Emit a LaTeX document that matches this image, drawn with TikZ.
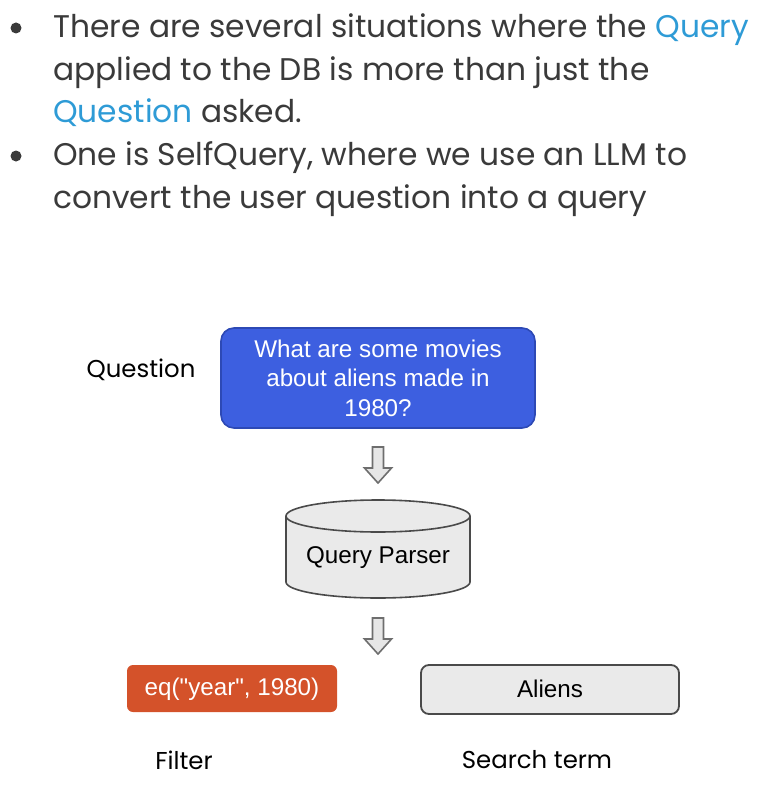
\documentclass[tikz,border=0pt]{standalone}
\usepackage{fontspec}
\setmainfont{Poppins}
\newfontfamily\arialf{Liberation Sans}
\definecolor{txtgray}{HTML}{3A3A3A}
\definecolor{qblue}{HTML}{2E9BD6}
\definecolor{boxblue}{HTML}{3D5FE0}
\definecolor{boxblueb}{HTML}{2D49B5}
\definecolor{orng}{HTML}{D4522A}
\definecolor{lgray}{HTML}{EAEAEA}
\definecolor{dgray}{HTML}{4A4A4A}
\definecolor{agray}{HTML}{6E6E6E}
\definecolor{afill}{HTML}{E6E6E6}
\tikzset{
  bulletline/.style={anchor=base west, inner sep=0pt, text=txtgray, font=\fontsize{31.3}{36}\selectfont},
  sidelabel/.style={inner sep=0pt, text=black, font=\fontsize{24.4}{29}\selectfont},
  boxtext/.style={font=\arialf\fontsize{24.2}{29.5}\selectfont, align=center},
  hollowarrow/.pic={\draw[agray, line width=1.6pt, fill=afill, line join=miter]
     (-5.5,0) -- (5.5,0) -- (5.5,21) -- (13.5,21) -- (0,36) -- (-13.5,21) -- (-5.5,21) -- cycle;}
}
\begin{document}
\begin{tikzpicture}[x=1pt,y=-1pt]
\useasboundingbox (0,0) rectangle (758,789);
% bullets
\fill[txtgray] (16,28) circle (5.5);
\fill[txtgray] (16,156) circle (5.5);
\node[bulletline] (l1) at (53,38) {There are several situations where the \textcolor{qblue}{Query}};
\node[bulletline] (l2) at (53,80.5) {applied to the DB is more than just the};
\node[bulletline] (l3) at (53,123) {\textcolor{qblue}{Question} asked.};
\node[bulletline] (l4) at (53,165.5) {One is SelfQuery, where we use an LLM to};
\node[bulletline] (l5) at (53,208) {convert the user question into a query};
% question
\node[sidelabel] (qlabel) at (141,370) {Question};
\draw[boxblueb, line width=1.6pt, fill=boxblue, rounded corners=13pt] (221,328) rectangle (535,428);
\node[boxtext, text=white] (question) at (378,378) {What are some movies\\about aliens made in\\1980?};
% arrow 1
\pic at (378,447) {hollowarrow};
\coordinate (arr1) at (378,465);
% cylinder
\draw[dgray, line width=1.6pt, fill=lgray] (286,516) -- (286,582) arc[start angle=180, end angle=0, x radius=92, y radius=16] -- (470,516);
\draw[dgray, line width=1.6pt, fill=lgray] (378,516) ellipse[x radius=92, y radius=16];
\node[boxtext, text=black] (parser) at (378,558) {Query Parser};
% arrow 2
\pic at (378,618) {hollowarrow};
\coordinate (arr2) at (378,636);
% outputs
\fill[orng, rounded corners=6pt] (127,665) rectangle (337,712);
\node[boxtext, text=white] (filter) at (232,689) {eq("year", 1980)};
\draw[dgray, line width=1.8pt, fill=lgray, rounded corners=8pt] (421,665) rectangle (679,714);
\node[boxtext, text=black] (aliens) at (550,689) {Aliens};
\node[sidelabel] (flabel) at (184,760) {Filter};
\node[sidelabel] (slabel) at (537,760) {Search term};
\end{tikzpicture}
\end{document}
